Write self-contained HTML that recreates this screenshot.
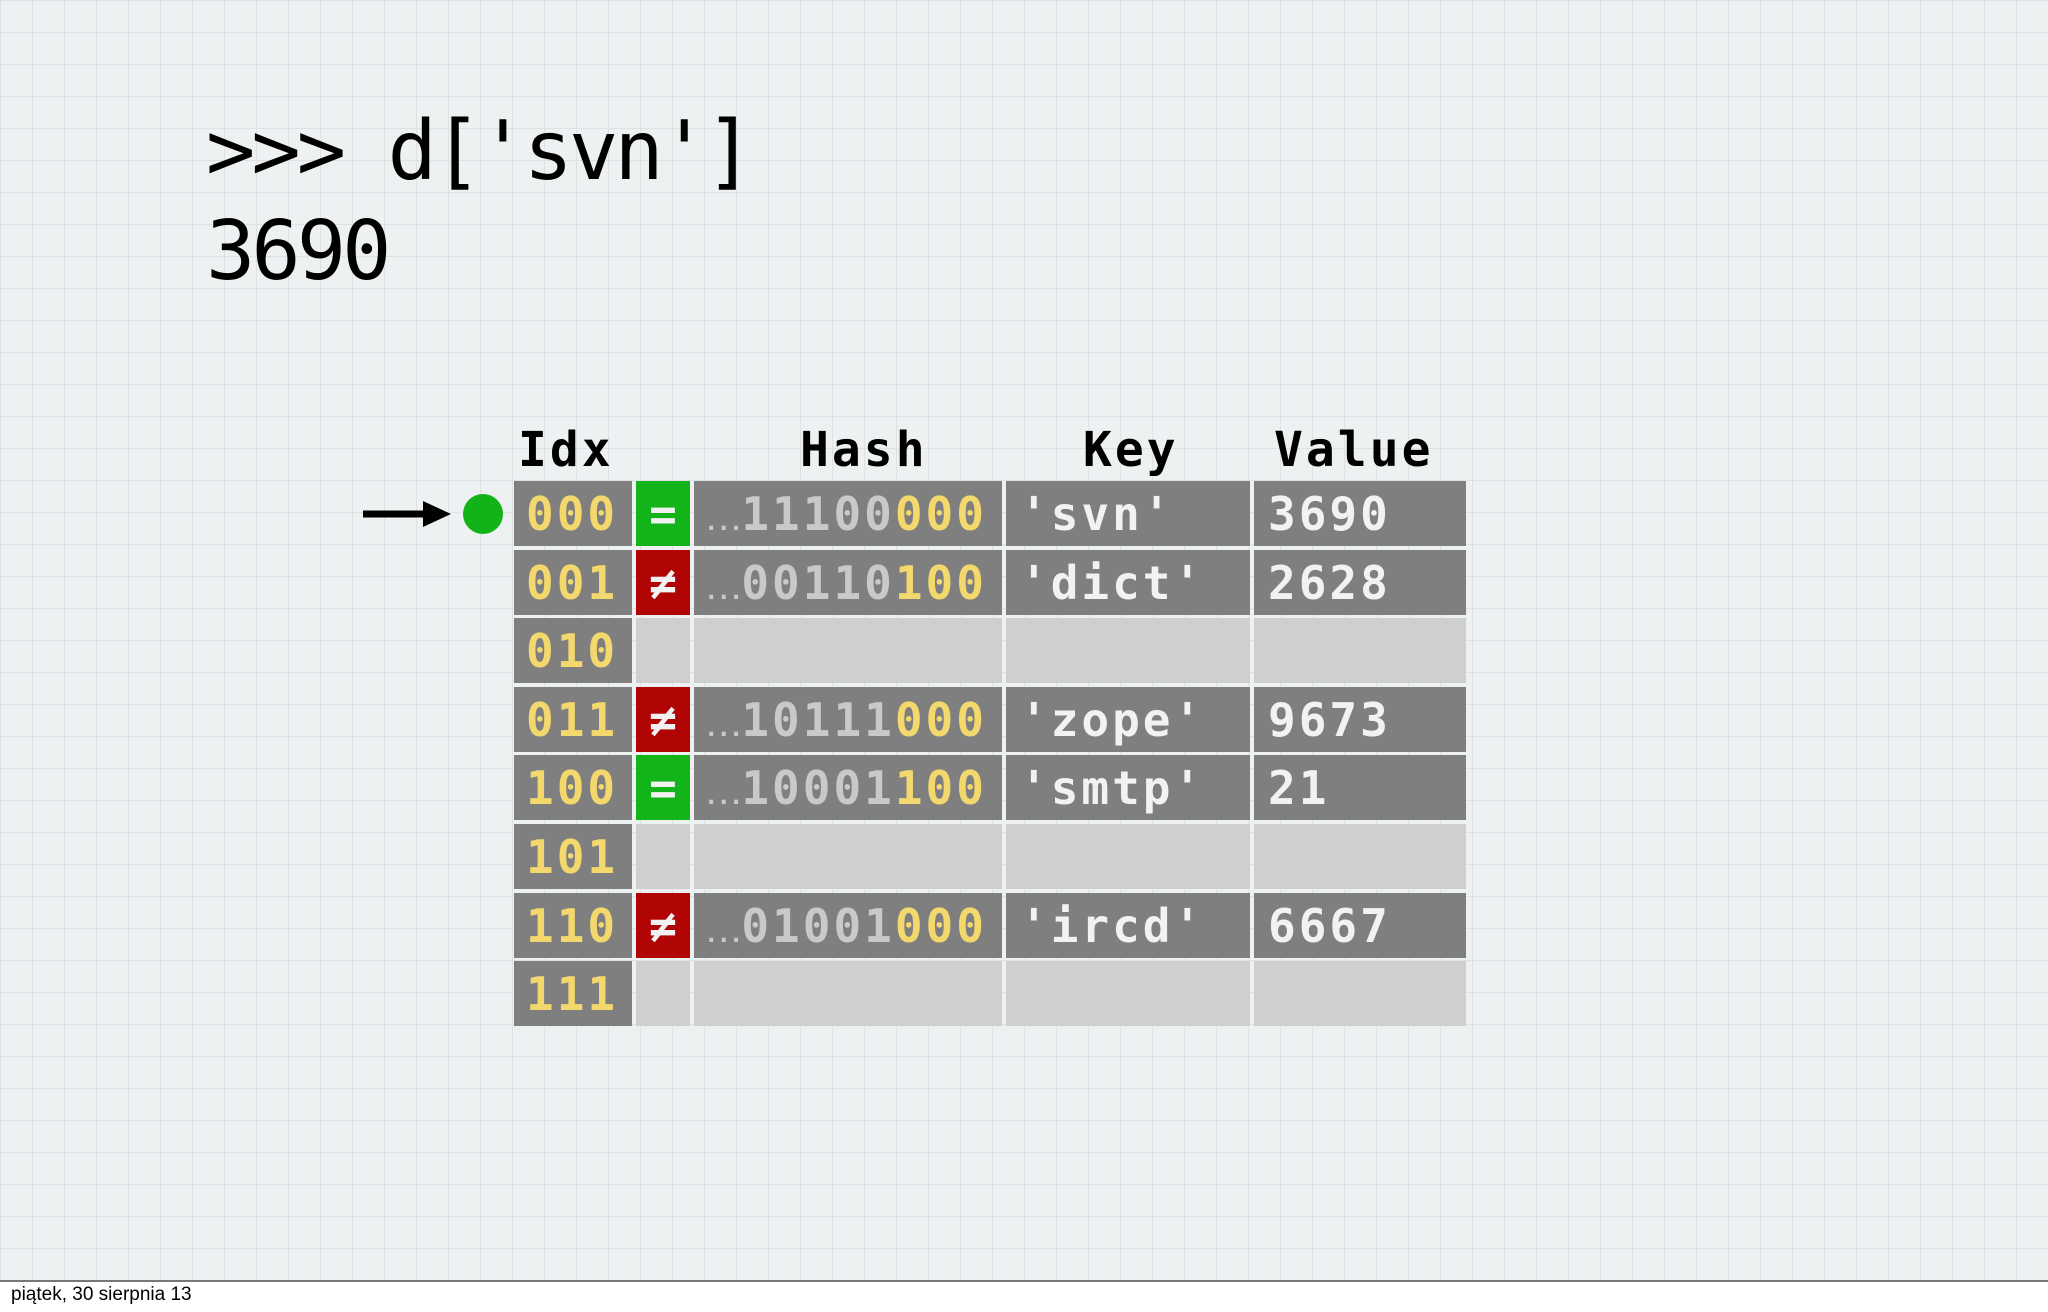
<!DOCTYPE html>
<html><head><meta charset="utf-8"><style>
body{margin:0;width:2048px;height:1312px;position:relative;overflow:hidden;background:#fff;font-family:"DejaVu Sans Mono","Liberation Mono",monospace}
#bg{position:absolute;left:0;top:0;width:2048px;height:1280px;background-color:#eef1f2;
background-image:linear-gradient(#dde2e4 1px,transparent 1px),linear-gradient(90deg,#dde2e4 1px,transparent 1px);background-size:32px 32px;border-bottom:2px solid #777}
.t{position:absolute;color:#000}
.c{position:absolute;height:65px;line-height:67px;font-size:46px;font-weight:bold;letter-spacing:3px;box-sizing:border-box;white-space:nowrap}
.d{background:#7f7f7f}.l{background:#cfcfcf}
.y{color:#f3d86e}.g{color:#c9c9c9}.w{color:#f2f2f2}
.h{position:absolute;top:422px;font-size:48px;font-weight:bold;letter-spacing:3px}
</style></head><body>
<div id="bg"></div>
<div class="t" style="left:206px;top:102px;font-size:82px;line-height:100px;letter-spacing:-4px">&gt;&gt;&gt; d['svn']<br>3690</div>
<div class="h" style="left:518px">Idx</div>
<div class="h" style="left:800px">Hash</div>
<div class="h" style="left:1083px">Key</div>
<div class="h" style="left:1274px">Value</div>
<svg style="position:absolute;left:355px;top:490px" width="160" height="50"><line x1="8" y1="24" x2="75" y2="24" stroke="#000" stroke-width="7"/><polygon points="68,11 96,24 68,37" fill="#000"/><circle cx="128" cy="24" r="20" fill="#12b319"/></svg>
<div id="rows"></div>
<script>
var R=[["000","=","11100","000","'svn'","3690"],["001","≠","00110","100","'dict'","2628"],["010"],["011","≠","10111","000","'zope'","9673"],["100","=","10001","100","'smtp'","21"],["101"],["110","≠","01001","000","'ircd'","6667"],["111"]];
var h="";R.forEach(function(r,i){var y=481+i*68.6;
h+='<div class="c d y" style="left:514px;top:'+y+'px;width:118px;padding-left:12px">'+r[0]+'</div>';
if(r.length>1){var col=r[1]=="="?"#13b31a":"#b10404";
h+='<div class="c w" style="left:636px;top:'+y+'px;width:54px;background:'+col+';text-align:center;letter-spacing:0">'+r[1]+'</div>';
h+='<div class="c d" style="left:694px;top:'+y+'px;width:308px;padding-left:10px"><span class="g" style="font-size:24px;letter-spacing:-2px">...</span><span class="g">'+r[2]+'</span><span class="y">'+r[3]+'</span></div>';
h+='<div class="c d w" style="left:1006px;top:'+y+'px;width:244px;padding-left:14px">'+r[4]+'</div>';
h+='<div class="c d w" style="left:1254px;top:'+y+'px;width:212px;padding-left:14px">'+r[5]+'</div>';}
else{h+='<div class="c l" style="left:636px;top:'+y+'px;width:54px"></div><div class="c l" style="left:694px;top:'+y+'px;width:308px"></div><div class="c l" style="left:1006px;top:'+y+'px;width:244px"></div><div class="c l" style="left:1254px;top:'+y+'px;width:212px"></div>';}
});document.getElementById("rows").innerHTML=h;
</script>
<div style="position:absolute;left:11px;top:1284px;font-family:'Liberation Sans',sans-serif;font-size:19px;color:#000">piątek, 30 sierpnia 13</div>
</body></html>
